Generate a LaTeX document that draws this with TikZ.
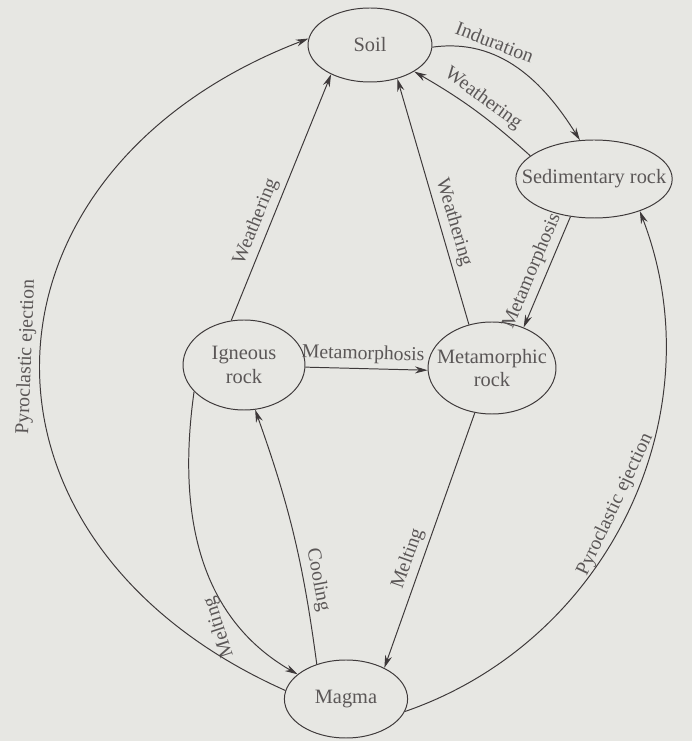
\documentclass[tikz,border=0pt]{standalone}
\usepackage{fontspec}
\setmainfont{Liberation Serif}
\usetikzlibrary{shapes.geometric, arrows.meta}
\definecolor{paper}{RGB}{231,231,227}
\definecolor{ink}{RGB}{62,57,58}

\begin{document}
\begin{tikzpicture}[
    rock/.style={draw=ink, line width=0.7pt, ellipse, inner xsep=-12pt, inner ysep=-2pt,
        align=center, text=ink!85, font=\fontsize{14.5}{17}\selectfont},
    flow/.style={draw=ink, line width=0.7pt, -{Stealth[length=9pt, width=5pt]}},
    lbl/.style={sloped, above, text=ink!85, font=\fontsize{14}{17}\selectfont}
]
    \fill[paper] (0,0) rectangle (17.3,18.525);
    \useasboundingbox (0,0) rectangle (17.3,18.525);

    % Define nodes
    \node[rock, minimum width=3.1cm, minimum height=1.85cm] (Soil) at (9.25,17.4) {Soil};
    \node[rock, minimum width=3.8cm, minimum height=1.95cm] (Sed) at (14.85,14.05) {Sedimentary rock};
    \node[rock, minimum width=3.05cm, minimum height=2.25cm] (Ign) at (6.1,9.4) {Igneous\\rock};
    \node[rock, minimum width=3.2cm, minimum height=2.3cm] (Met) at (12.3,9.325) {Metamorphic\\rock};
    \node[rock, minimum width=3.08cm, minimum height=1.95cm] (Mag) at (8.65,1.05) {Magma};

    % Draw arrows
    \draw[flow] (Soil.-2) to[out=8, in=122] node[lbl, pos=0.32] {Induration} (Sed.110);
    \draw[flow] (Sed.160) to[bend right=6] node[lbl, pos=0.5] {Weathering} (Soil.-31);
    \draw[flow] (Ign.106) -- node[lbl, pos=0.38] {Weathering} (Soil.-143);
    \draw[flow] (Met.118) -- node[lbl, pos=0.4] {Weathering} (Soil.-51);
    \draw[flow] (Sed.-122) -- node[lbl, pos=0.54] {Metamorphosis} (Met.52);
    \draw[flow] (Ign.-2) -- node[lbl, pos=0.47] {Metamorphosis} (Met.-178);
    \draw[flow] (Ign.-152) to[out=-98, in=150]
        node[pos=0.75, rotate=108, anchor=south, inner sep=6pt, text=ink!85,
            font=\fontsize{14}{17}\selectfont] {Melting} (Mag.153);
    \draw[flow] (Mag.130) to[bend right=6] node[lbl, pos=0.3] {Cooling} (Ign.-76);
    \draw[flow] (Met.-111) -- node[lbl, pos=0.59] {Melting} (Mag.39);
    \draw[flow] (Mag.172) to[out=156, in=201, looseness=1.45]
        node[lbl, pos=0.5] {Pyroclastic ejection} (Soil.174);
    \draw[flow] (Mag.-12) to[out=19, in=-69]
        node[lbl, pos=0.5] {Pyroclastic ejection} (Sed.-35);
\end{tikzpicture}
\end{document}
